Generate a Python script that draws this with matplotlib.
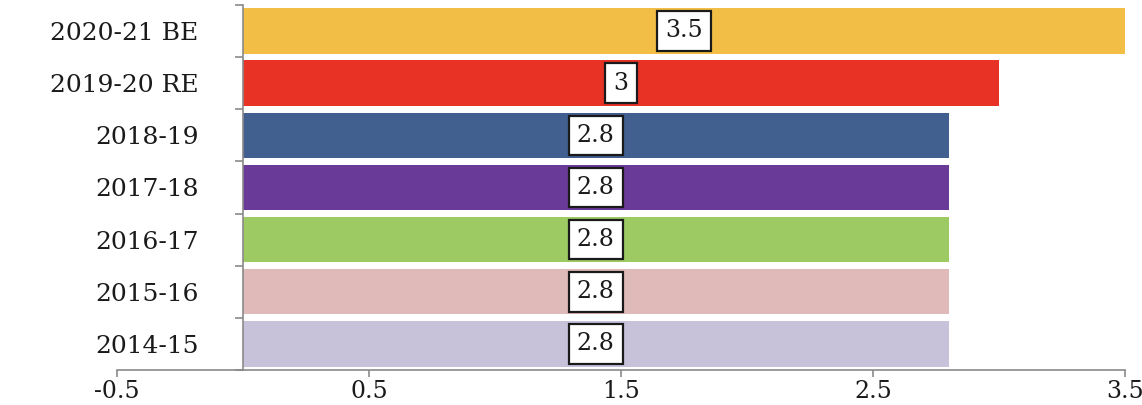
import numpy as np
import matplotlib
matplotlib.use('Agg')
import matplotlib.pyplot as plt

# Veriler (alttan üste)
years = ['2014-15', '2015-16', '2016-17', '2017-18', '2018-19', '2019-20 RE', '2020-21 BE']
values = [2.8, 2.8, 2.8, 2.8, 2.8, 3, 3.5]
value_labels = ['2.8', '2.8', '2.8', '2.8', '2.8', '3', '3.5']
bar_colors = ['#c8c1da', '#dfbab9', '#9dca62', '#6a3a98', '#41608f', '#e83226', '#f3be45']
x_ticks = [-0.5, 0.5, 1.5, 2.5, 3.5]

plt.rcParams['font.family'] = ['DejaVu Serif']

fig = plt.figure(figsize=(11.42, 4.05), dpi=100)
ax = fig.add_axes([0.1025, 0.0864, 0.8825, 0.9016])

y = np.arange(len(years))
ax.barh(y, values, height=0.87, color=bar_colors)

# Değer etiketleri (kutulu, çubuğun ortasında)
for yi, v, lab in zip(y, values, value_labels):
    ax.text(v / 2, yi, lab, ha='center', va='center', fontsize=17, color='#1a1a1a',
            bbox=dict(boxstyle='square,pad=0.35', facecolor='white', edgecolor='#1a1a1a', linewidth=1.6))

ax.set_xlim(-0.5, 3.5)
ax.set_ylim(-0.5, len(years) - 0.5)

# Eksen çizgileri
for s in ['top', 'right']:
    ax.spines[s].set_visible(False)
ax.spines['left'].set_position(('data', 0))
ax.spines['left'].set_color('#8a8a8a')
ax.spines['bottom'].set_color('#8a8a8a')
ax.spines['left'].set_linewidth(1.2)
ax.spines['bottom'].set_linewidth(1.2)

ax.set_xticks(x_ticks)
ax.set_xticklabels([str(t) for t in x_ticks], fontsize=17, color='#1a1a1a')
ax.tick_params(axis='x', direction='out', length=5, width=1.2, color='#8a8a8a', pad=2)

ax.set_yticks(y)
ax.set_yticklabels(years, fontsize=18, color='#1a1a1a')
ax.set_yticks(np.arange(-0.5, len(years), 1.0), minor=True)
ax.tick_params(axis='y', which='major', length=0, pad=32)
ax.tick_params(axis='y', which='minor', direction='out', length=6, width=1.2, color='#8a8a8a')

fig.savefig('out.png', dpi=100)
